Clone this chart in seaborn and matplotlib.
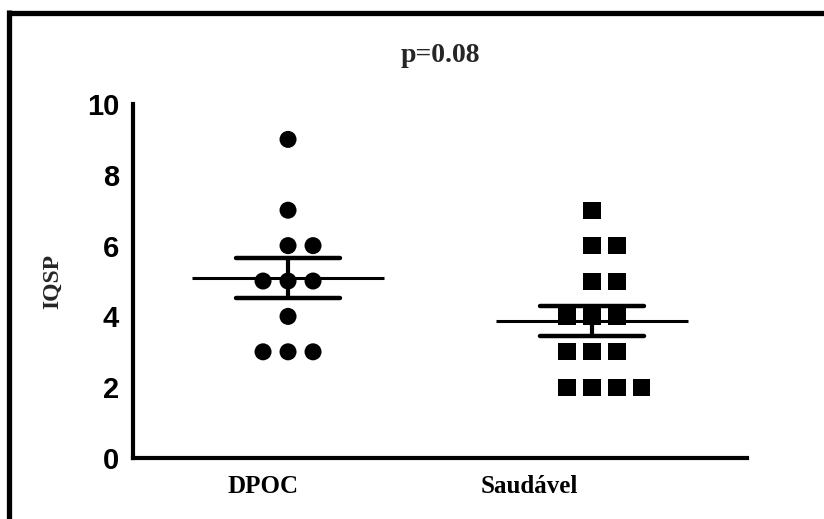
import numpy as np
import pandas as pd
import matplotlib
matplotlib.use("Agg")
import matplotlib.pyplot as plt
import seaborn as sns
from matplotlib.lines import Line2D

# andmed loetud pildilt
grupid = ["DPOC", "Saudável"]
dpoc = [9, 7, 6, 6, 5, 5, 5, 4, 3, 3, 3]
saudavel = [7, 6, 6, 5, 5, 4, 4, 4, 3, 3, 3, 2, 2, 2, 2]
p_tekst = "p=0.08"
y_ticks = [0, 2, 4, 6, 8, 10]

# paigutus (Prismi stiilis nihe tulba keskelt)
keskkoht = {"DPOC": 0.094, "Saudável": 1.237}
samm = 0.094


def punktid(nimi, vaartused):
    read = []
    for v in sorted(set(vaartused), reverse=True):
        n = vaartused.count(v)
        nihked = np.arange(n) - (n - 1) // 2
        for k in nihked:
            read.append({"x": keskkoht[nimi] + k * samm, "IQSP": v, "grupp": nimi})
    return read


df = pd.DataFrame(punktid("DPOC", dpoc) + punktid("Saudável", saudavel))

sns.set_style("white")
fig = plt.figure(figsize=(8.24, 5.19), dpi=100)
ax = fig.add_axes([0.1614, 0.1175, 0.7452, 0.6821])

sns.scatterplot(data=df, x="x", y="IQSP", hue="grupp", style="grupp",
                markers={"DPOC": "o", "Saudável": "s"},
                palette={"DPOC": "black", "Saudável": "black"},
                s=150, linewidth=0, legend=False, ax=ax, zorder=3)

# keskmine ja standardviga
for nimi, vaartused in zip(grupid, [dpoc, saudavel]):
    arr = np.array(vaartused, dtype=float)
    keskm = arr.mean()
    sem = arr.std(ddof=1) / np.sqrt(len(arr))
    c = keskkoht[nimi]
    ax.hlines(keskm, c - 0.36, c + 0.36, color="black", lw=2.2, zorder=4)
    ax.hlines([keskm - sem, keskm + sem], c - 0.196, c + 0.196, color="black",
              lw=3.2, capstyle="round", zorder=4)
    ax.vlines(c, keskm - sem, keskm + sem, color="black", lw=3, zorder=4)

ax.set_xlim(-0.489, 1.82)
ax.set_ylim(0, 10)
ax.set_xticks([0, 1])
ax.set_xticklabels(grupid, family="Liberation Serif", fontweight="bold", fontsize=18)
ax.set_yticks(y_ticks)
ax.set_yticklabels([str(t) for t in y_ticks], family="Liberation Sans",
                   fontweight="bold", fontsize=21)
ax.set_xlabel("")
ax.set_ylabel("IQSP", family="Liberation Serif", fontweight="bold", fontsize=17)
ax.yaxis.set_label_coords(-0.114, 0.5)
ax.set_title(p_tekst, family="Liberation Serif", fontweight="bold", fontsize=20, pad=30,
             x=0.5)

sns.despine(ax=ax)
for sp in ["left", "bottom"]:
    ax.spines[sp].set_linewidth(3)
    ax.spines[sp].set_color("black")
ax.tick_params(axis="y", direction="out", length=8, width=2.5, pad=2, colors="black")
ax.tick_params(axis="x", direction="out", length=6, width=2.5, pad=6, colors="black")

# raam pildi ümber (ülemine ja vasak serv)
fig.add_artist(Line2D([0.0085, 1.0], [0.9755, 0.9755], transform=fig.transFigure,
                      color="black", lw=3.8, solid_capstyle="butt"))
fig.add_artist(Line2D([0.0115, 0.0115], [0.0, 0.98], transform=fig.transFigure,
                      color="black", lw=3.8, solid_capstyle="butt"))

fig.savefig("out.png", dpi=100, facecolor="white")
